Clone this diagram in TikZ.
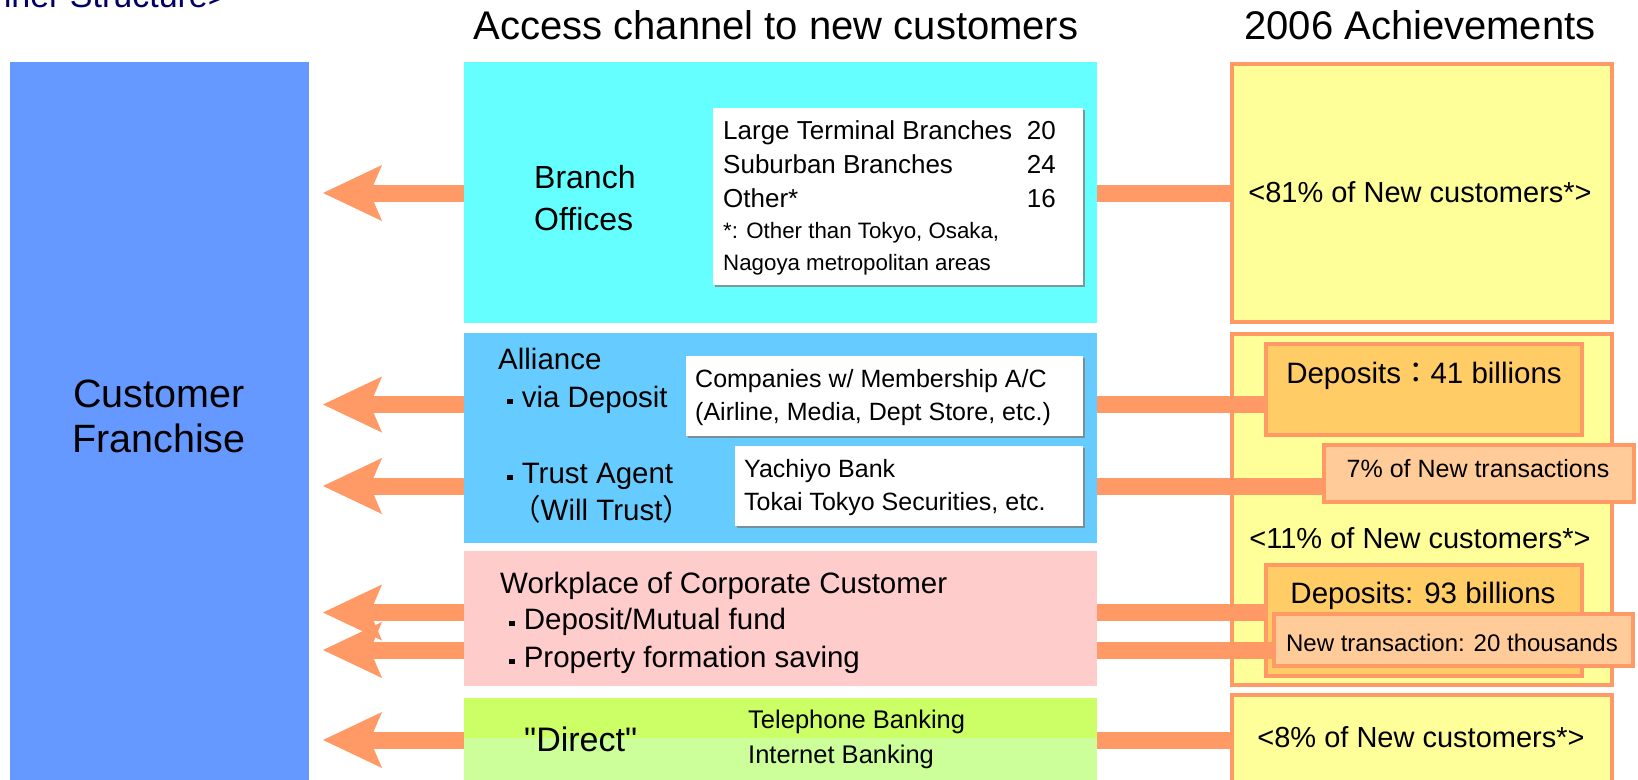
\documentclass[tikz,border=0pt]{standalone}
\usepackage{fontspec}
\setmainfont{Liberation Sans}
\newfontfamily\plainfont{Liberation Sans}
\newfontfamily\cjk{Noto Sans CJK JP}
\usetikzlibrary{arrows.meta,shadows}

\definecolor{franchise}{HTML}{6699FF}
\definecolor{branch}{HTML}{66FFFF}
\definecolor{alliance}{HTML}{66CCFF}
\definecolor{workplace}{HTML}{FFCCCC}
\definecolor{phone}{HTML}{CCFF66}
\definecolor{web}{HTML}{CCFF99}
\definecolor{result}{HTML}{FFFF99}
\definecolor{rim}{HTML}{FF9966}
\definecolor{deposit}{HTML}{FFCC66}
\definecolor{share}{HTML}{FFCC99}
\definecolor{heading}{HTML}{000066}

\newcommand\sz[1]{\fontsize{#1}{#1}\selectfont}
\newcommand\bul{\makebox[0.8em]{\rule[0.1em]{0.17em}{0.17em}}}

\begin{document}
\begin{tikzpicture}[x=1pt,y=-1pt]
\tikzset{box/.style={rectangle,inner sep=0pt,outer sep=0pt,anchor=north west}}
\tikzset{ach/.style={box,fill=result,draw=rim,line width=4pt}}
\tikzset{sub/.style={box,draw=rim,line width=4pt}}
\tikzset{card/.style={box,fill=white,drop shadow={shadow xshift=1.5pt,shadow yshift=-1.5pt,fill=gray,opacity=0.8}}}
\tikzset{txt/.style={anchor=base west,inner sep=0pt},mid/.style={anchor=base,inner sep=0pt}}
\tikzset{feed/.style={draw=rim,line width=17pt,-{Stealth[length=59pt,width=56pt,inset=12pt,line width=0pt]}}}

\useasboundingbox (0,0) rectangle (1638,779);
\clip (0,0) rectangle (1638,779);

% headings
\node[anchor=base east,inner sep=0pt,text=heading,font=\sz{34}] (head) at (228,8) {<Inner Structure>};
\node[mid,font=\sz{40}] (chan) at (776,39) {Access channel to new customers};
\node[mid,font=\sz{40}] (year) at (1420,39) {2006 Achievements};

% customer franchise
\node[box,fill=franchise,minimum width=299pt,minimum height=730pt] (cf) at (10,62) {};
\node[mid,font=\sz{39.5}] (cf1) at (159,407) {Customer};
\node[mid,font=\sz{39.5}] (cf2) at (159,452) {Franchise};

% achievements
\node[ach,minimum width=380pt,minimum height=258pt] (y1) at (1232,64) {};
\node[ach,minimum width=380pt,minimum height=351pt] (y2) at (1232,334) {};
\node[ach,minimum width=380pt,minimum height=90pt] (y3) at (1232,695) {};
\node[sub,fill=deposit,minimum width=316pt,minimum height=91pt] (dep41) at (1266,344) {};
\node[sub,fill=share,minimum width=310pt,minimum height=57pt] (pct7) at (1324,445) {};
\node[sub,fill=deposit,minimum width=316pt,minimum height=111pt] (dep93) at (1266,565) {};
\node[sub,fill=share,minimum width=359pt,minimum height=52pt] (ntr) at (1274,614) {};

\node[mid,font=\sz{29}] (t81) at (1420,202) {<81\% of New customers*>};
\node[mid,font=\sz{29.5}] (t41) at (1424,383) {Deposits{\cjk ：}41 billions};
\node[mid,font=\sz{25}] (t7) at (1478,477) {7\% of New transactions};
\node[mid,font=\sz{29}] (t11) at (1420,548) {<11\% of New customers*>};
\node[mid,font=\sz{29.5}] (t93) at (1423,603) {Deposits: 93 billions};
\node[mid,font=\sz{24}] (t20) at (1452,651) {New transaction: 20 thousands};
\node[mid,font=\sz{29}] (t8) at (1421,747) {<8\% of New customers*>};

% channels into the franchise
\coordinate (tip) at (323,0);
\coordinate (l2) at ([yshift=-15pt]dep41.west);
\coordinate (l3) at ([yshift=-12.5pt]pct7.west);
\coordinate (l4) at ([yshift=8pt]dep93.west);
\coordinate (l5) at ([yshift=-10pt]ntr.west);
\draw[feed] (y1.west) -- (y1.west -| tip);
\draw[feed] (l2) -- (l2 -| tip);
\draw[feed] (l3) -- (l3 -| tip);
\draw[feed] (l4) -- (l4 -| tip);
\draw[feed] (l5) -- (l5 -| tip);
\draw[feed] (y3.west) -- (y3.west -| tip);

% access channels
\node[box,fill=branch,minimum width=633pt,minimum height=261pt] (bo) at (464,62) {};
\node[box,fill=alliance,minimum width=633pt,minimum height=210pt] (al) at (464,333) {};
\node[box,fill=workplace,minimum width=633pt,minimum height=135pt] (wp) at (464,551) {};
\node[box,fill=phone,minimum width=633pt,minimum height=40pt] (tel) at (464,698) {};
\node[box,fill=web,minimum width=633pt,minimum height=52pt] (net) at (464,738) {};

\node[card,minimum width=370pt,minimum height=177pt] (bolist) at (713,108) {};
\node[card,minimum width=397pt,minimum height=80pt] (alco) at (686,356) {};
\node[card,minimum width=348pt,minimum height=80pt] (altr) at (735,446) {};

% branch offices
\node[txt,font=\sz{32}] (bo1) at (534,188) {Branch};
\node[txt,font=\sz{32}] (bo2) at (534,230) {Offices};
\node[txt,font=\sz{26}] (bl1) at (723,139) {Large Terminal Branches};
\node[txt,font=\sz{26}] (bl2) at (723,173) {Suburban Branches};
\node[txt,font=\sz{26}] (bl3) at (723,207) {Other*};
\node[anchor=base east,inner sep=0pt,font=\sz{26}] (bn1) at (1056,139) {20};
\node[anchor=base east,inner sep=0pt,font=\sz{26}] (bn2) at (1056,173) {24};
\node[anchor=base east,inner sep=0pt,font=\sz{26}] (bn3) at (1056,207) {16};
\node[txt,font=\sz{22.3}] (bf1) at (723,238) {*: Other than Tokyo, Osaka,};
\node[txt,font=\sz{22.3}] (bf2) at (723,270) {Nagoya metropolitan areas};

% alliance
\node[txt,font=\sz{29.5}] (al1) at (498,369) {Alliance};
\node[txt,font=\sz{29.5}] (al2) at (498,407) {\bul via Deposit};
\node[txt,font=\sz{29.5}] (al3) at (498,483) {\bul Trust Agent};
\node[txt,font=\sz{29.5}] (al4) at (511,520) {{\cjk （}Will Trust{\cjk ）}};
\node[txt,font=\sz{25}] (co1) at (695,387) {Companies w/ Membership A/C};
\node[txt,font=\sz{25}] (co2) at (695,420) {(Airline, Media, Dept Store, etc.)};
\node[txt,font=\sz{25}] (tr1) at (744,477) {Yachiyo Bank};
\node[txt,font=\sz{25}] (tr2) at (744,510) {Tokai Tokyo Securities, etc.};

% workplace
\node[txt,font=\sz{29.5}] (wp1) at (500,593) {Workplace of Corporate Customer};
\node[txt,font=\sz{29.5}] (wp2) at (500,629) {\bul Deposit/Mutual fund};
\node[txt,font=\sz{29.5}] (wp3) at (500,667) {\bul Property formation saving};

% direct
\node[txt,font=\sz{34}\plainfont] (dr) at (524,751) {"Direct"};
\node[txt,font=\sz{25.5}] (dr1) at (748,728) {Telephone Banking};
\node[txt,font=\sz{25.5}] (dr2) at (748,763) {Internet Banking};
\end{tikzpicture}
\end{document}
